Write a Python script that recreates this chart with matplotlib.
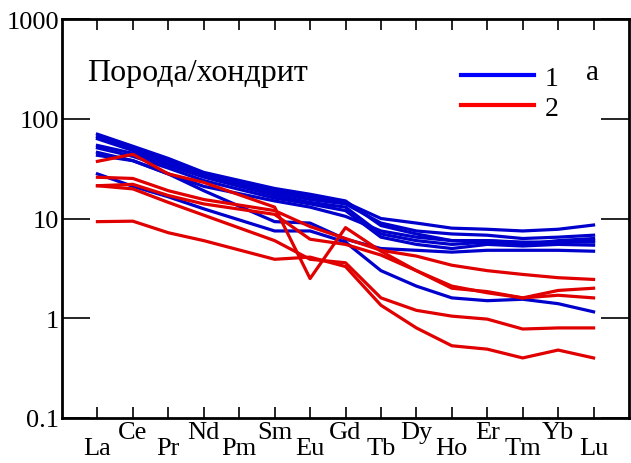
import numpy as np
import matplotlib.pyplot as plt
from matplotlib.lines import Line2D

plt.rcParams['font.family'] = ['Liberation Serif', 'DejaVu Serif']

elements = ["La", "Ce", "Pr", "Nd", "Pm", "Sm", "Eu", "Gd", "Tb", "Dy", "Ho", "Er", "Tm", "Yb", "Lu"]
# Pm is not analysed, so lines skip it
measured = ["La", "Ce", "Pr", "Nd", "Sm", "Eu", "Gd", "Tb", "Dy", "Ho", "Er", "Tm", "Yb", "Lu"]

# group 1 (blue), rock/chondrite
blue_1 = [70, 53, 40, 29, 20, 17.5, 15, 8.5, 7.0, 6.0, 6.0, 5.7, 5.8, 5.8]
blue_2 = [66, 50, 38, 28, 19, 16.5, 14.5, 10, 9.0, 8.0, 7.8, 7.5, 7.8, 8.6]
blue_3 = [63, 48, 36, 27, 18, 15.5, 14, 9.0, 7.5, 7.0, 6.8, 6.3, 6.5, 6.8]
blue_4 = [54, 45, 34, 26, 17, 14.5, 13, 7.0, 6.0, 5.5, 5.8, 5.5, 6.0, 6.3]
blue_5 = [51, 42, 32, 24, 16, 14, 12, 6.5, 5.5, 5.0, 5.5, 5.3, 5.5, 5.4]
blue_6 = [46, 38, 28, 19, 9.3, 9.0, 6.2, 5.0, 4.8, 4.6, 4.8, 4.8, 4.8, 4.7]
blue_7 = [43, 38, 28, 21, 15, 13, 10.5, 7.5, 6.5, 6.0, 6.0, 5.8, 5.8, 6.0]
blue_8 = [28, 21, 16.5, 12.5, 7.5, 7.5, 5.8, 3.0, 2.1, 1.6, 1.5, 1.55, 1.4, 1.16]

# group 2 (red)
red_1 = [37.4, 44, 28, 23, 13, 2.5, 8.1, 4.7, 3.0, 2.0, 1.85, 1.6, 1.9, 2.0]
red_2 = [25.9, 25.2, 19, 15.5, 12, 8.3, 6.3, 4.8, 4.2, 3.4, 3.0, 2.75, 2.55, 2.45]
red_3 = [21.3, 22, 17, 14, 11, 6.2, 5.5, 4.3, 3.0, 2.1, 1.8, 1.6, 1.7, 1.6]
red_4 = [21.3, 19.8, 14.5, 10.8, 6.0, 3.9, 3.6, 1.6, 1.2, 1.05, 0.98, 0.78, 0.8, 0.8]
red_5 = [9.3, 9.4, 7.2, 6.0, 3.9, 4.1, 3.3, 1.35, 0.8, 0.53, 0.49, 0.40, 0.48, 0.40]

blue_lines = [blue_1, blue_2, blue_3, blue_4, blue_5, blue_6, blue_7, blue_8]
red_lines = [red_1, red_2, red_3, red_4, red_5]

y_ticks = [0.1, 1, 10, 100, 1000]
y_labels = ["0.1", "1", "10", "100", "1000"]

blue = '#0000cc'
red = '#e00000'

fig = plt.figure(figsize=(6.31, 4.64), dpi=100)
ax = fig.add_axes([62/631, 45/464, 567/631, 399/464])

xs = [elements.index(e) + 1 for e in measured]
for ys in blue_lines:
    ax.plot(xs, ys, color=blue, lw=2.3)
for ys in red_lines:
    ax.plot(xs, ys, color=red, lw=2.3)

ax.set_yscale('log')
ax.set_ylim(0.1, 1000)
ax.set_xlim(0, 16)
ax.set_yticks(y_ticks)
ax.set_yticklabels(y_labels, fontsize=19)
ax.minorticks_off()
ax.set_xticks(range(1, 16))
ax.set_xticklabels(elements, fontsize=19)
for i, lab in enumerate(ax.get_xticklabels()):
    if i % 2 == 0:
        lab.set_y(-0.04)
    else:
        lab.set_y(0.0)

ax.tick_params(axis='x', direction='in', length=8, width=1.2, top=True, pad=2)
ax.tick_params(axis='y', direction='in', length=20, width=1.2, right=True, pad=2)
for s in ax.spines.values():
    s.set_linewidth(2)

ax.text(0.044, 0.865, "Порода/хондрит", transform=ax.transAxes, fontsize=23, va='center', ha='left')
ax.text(0.925, 0.868, "а", transform=ax.transAxes, fontsize=21, va='center', ha='left')

handles = [Line2D([], [], color='#0000ff', lw=3), Line2D([], [], color='#ff0000', lw=3)]
ax.legend(handles, ["1", "2"], loc='upper left', bbox_to_anchor=(0.68, 0.918), frameon=False,
          fontsize=20, handlelength=2.6, handletextpad=0.4, labelspacing=0.15, borderpad=0)

fig.savefig('out.png', dpi=100)
